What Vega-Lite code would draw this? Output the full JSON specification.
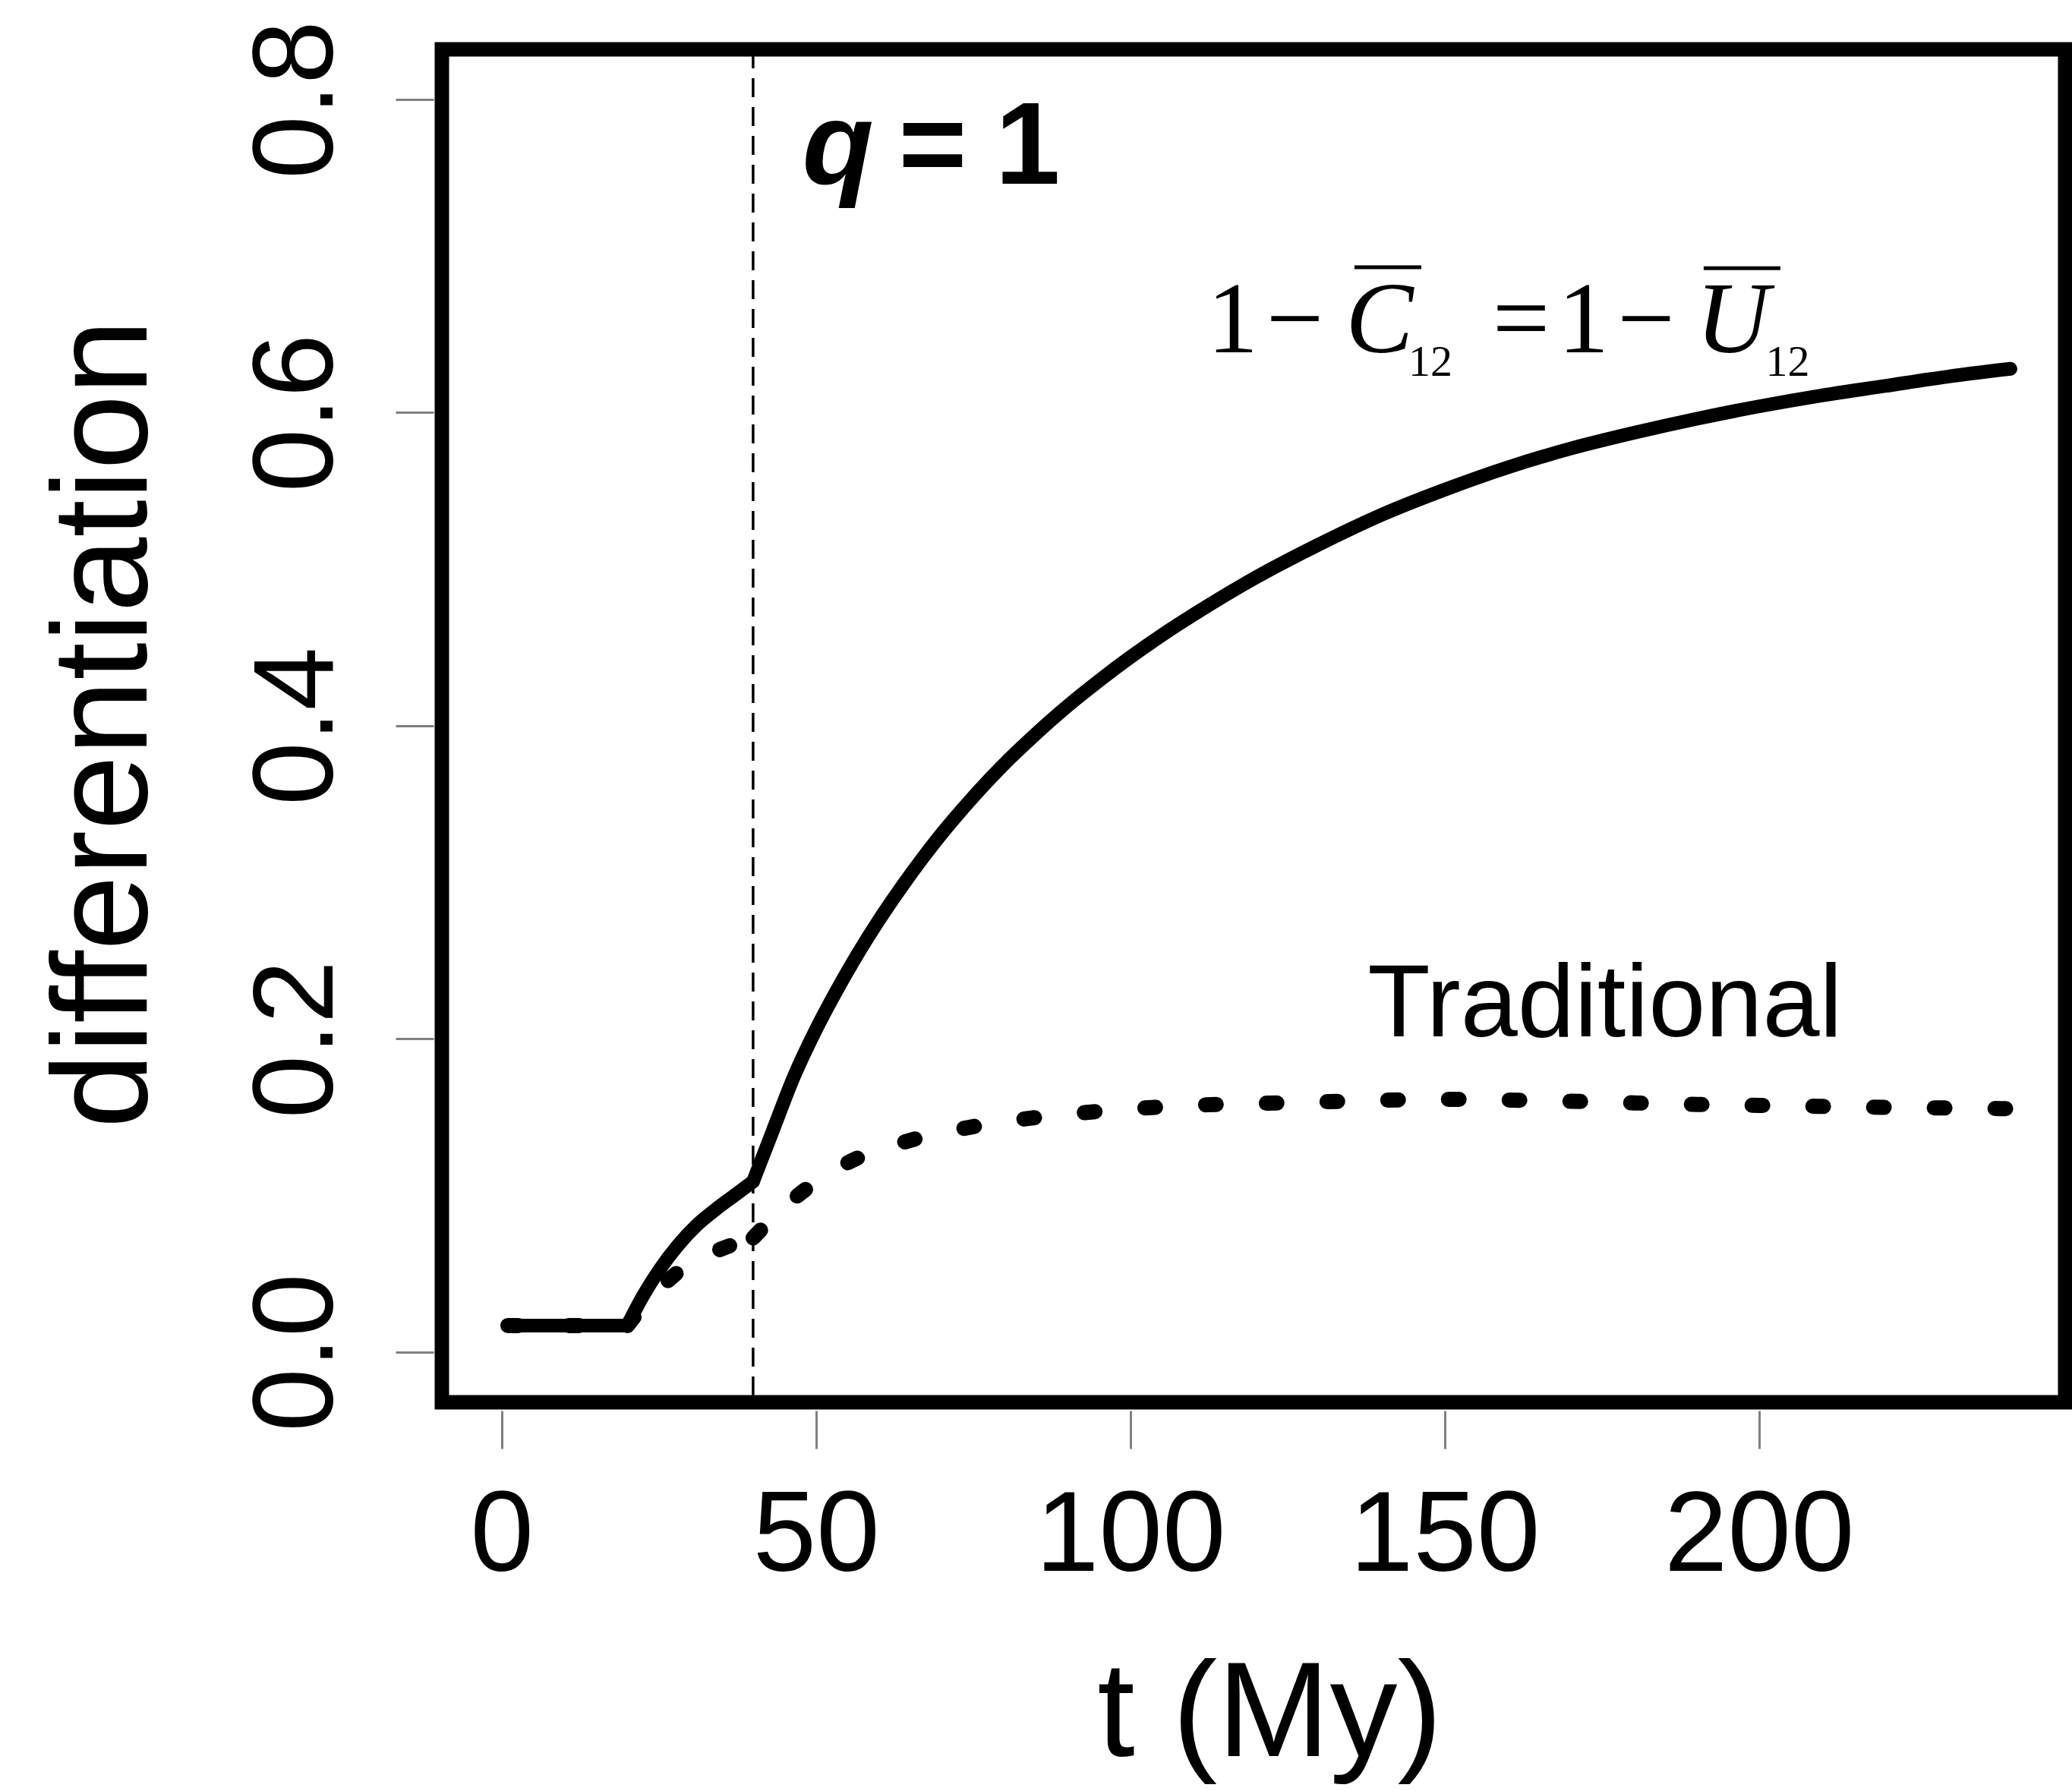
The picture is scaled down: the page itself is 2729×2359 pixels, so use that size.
{
  "$schema": "https://vega.github.io/schema/vega-lite/v6.json",
  "width": 2138,
  "height": 1782,
  "autosize": {"type": "none"},
  "padding": {"left": 582, "top": 65, "right": 9, "bottom": 512},
  "background": "white",
  "config": {
    "view": {"stroke": "black", "strokeWidth": 19},
    "font": "Liberation Sans",
    "axis": {
      "grid": false,
      "domain": false,
      "tickColor": "#808080",
      "tickWidth": 3,
      "tickSize": 50,
      "offset": 11,
      "labelFont": "Liberation Sans",
      "labelFontSize": 150,
      "labelColor": "black",
      "labelLimit": 0,
      "titleLimit": 0,
      "titleFont": "Liberation Sans",
      "titleFontSize": 178,
      "titleFontWeight": "normal",
      "titleColor": "black",
      "labelFlush": false,
      "labelOverlap": false
    },
    "axisX": {
      "labelPadding": 160,
      "labelAngle": 0,
      "labelAlign": "center",
      "labelBaseline": "alphabetic",
      "titleX": 1090,
      "titleY": 454,
      "titleAlign": "center",
      "titleBaseline": "alphabetic"
    },
    "axisY": {
      "labelAngle": 270,
      "labelAlign": "center",
      "labelBaseline": "alphabetic",
      "labelPadding": 84,
      "titleAngle": 270,
      "titleX": -379,
      "titleY": 888,
      "titleAlign": "center",
      "titleBaseline": "alphabetic"
    }
  },
  "datasets": {
    "curves": [
      {"t": 1, "value": 0.017, "series": "combined", "seg": "a"},
      {"t": 20, "value": 0.017, "series": "combined", "seg": "a"},
      {"t": 20, "value": 0.017, "series": "combined", "seg": "b"},
      {"t": 22.5, "value": 0.036, "series": "combined", "seg": "b"},
      {"t": 25, "value": 0.052, "series": "combined", "seg": "b"},
      {"t": 28, "value": 0.068, "series": "combined", "seg": "b"},
      {"t": 31, "value": 0.081, "series": "combined", "seg": "b"},
      {"t": 34, "value": 0.091, "series": "combined", "seg": "b"},
      {"t": 37, "value": 0.1, "series": "combined", "seg": "b"},
      {"t": 40, "value": 0.109, "series": "combined", "seg": "b"},
      {"t": 40, "value": 0.109, "series": "combined", "seg": "c"},
      {"t": 43, "value": 0.14, "series": "combined", "seg": "c"},
      {"t": 46.5, "value": 0.176, "series": "combined", "seg": "c"},
      {"t": 50, "value": 0.206, "series": "combined", "seg": "c"},
      {"t": 53, "value": 0.2288, "series": "combined", "seg": "c"},
      {"t": 56.6, "value": 0.254, "series": "combined", "seg": "c"},
      {"t": 60, "value": 0.2758, "series": "combined", "seg": "c"},
      {"t": 63.6, "value": 0.297, "series": "combined", "seg": "c"},
      {"t": 67, "value": 0.3157, "series": "combined", "seg": "c"},
      {"t": 70.5, "value": 0.3336, "series": "combined", "seg": "c"},
      {"t": 74, "value": 0.35, "series": "combined", "seg": "c"},
      {"t": 77.4, "value": 0.365, "series": "combined", "seg": "c"},
      {"t": 81, "value": 0.3798, "series": "combined", "seg": "c"},
      {"t": 84.4, "value": 0.3927, "series": "combined", "seg": "c"},
      {"t": 88, "value": 0.4057, "series": "combined", "seg": "c"},
      {"t": 91.3, "value": 0.4169, "series": "combined", "seg": "c"},
      {"t": 95.5, "value": 0.4303, "series": "combined", "seg": "c"},
      {"t": 100, "value": 0.4438, "series": "combined", "seg": "c"},
      {"t": 105, "value": 0.4578, "series": "combined", "seg": "c"},
      {"t": 110, "value": 0.4708, "series": "combined", "seg": "c"},
      {"t": 120, "value": 0.4948, "series": "combined", "seg": "c"},
      {"t": 130, "value": 0.5158, "series": "combined", "seg": "c"},
      {"t": 140, "value": 0.5348, "series": "combined", "seg": "c"},
      {"t": 150, "value": 0.5508, "series": "combined", "seg": "c"},
      {"t": 160, "value": 0.565, "series": "combined", "seg": "c"},
      {"t": 170, "value": 0.577, "series": "combined", "seg": "c"},
      {"t": 180, "value": 0.587, "series": "combined", "seg": "c"},
      {"t": 190, "value": 0.596, "series": "combined", "seg": "c"},
      {"t": 200, "value": 0.604, "series": "combined", "seg": "c"},
      {"t": 210, "value": 0.611, "series": "combined", "seg": "c"},
      {"t": 220, "value": 0.617, "series": "combined", "seg": "c"},
      {"t": 230, "value": 0.623, "series": "combined", "seg": "c"},
      {"t": 240, "value": 0.628, "series": "combined", "seg": "c"},
      {"t": 1, "value": 0.017, "series": "traditional", "seg": "d1"},
      {"t": 20, "value": 0.017, "series": "traditional", "seg": "d1"},
      {"t": 20, "value": 0.017, "series": "traditional", "seg": "d2"},
      {"t": 22, "value": 0.027, "series": "traditional", "seg": "d2"},
      {"t": 25, "value": 0.04, "series": "traditional", "seg": "d2"},
      {"t": 28, "value": 0.051, "series": "traditional", "seg": "d2"},
      {"t": 31, "value": 0.059, "series": "traditional", "seg": "d2"},
      {"t": 35, "value": 0.066, "series": "traditional", "seg": "d2"},
      {"t": 40, "value": 0.073, "series": "traditional", "seg": "d2"},
      {"t": 40, "value": 0.073, "series": "traditional", "seg": "d3"},
      {"t": 46.2, "value": 0.097, "series": "traditional", "seg": "d3"},
      {"t": 54.6, "value": 0.12, "series": "traditional", "seg": "d3"},
      {"t": 63.9, "value": 0.134, "series": "traditional", "seg": "d3"},
      {"t": 73.6, "value": 0.143, "series": "traditional", "seg": "d3"},
      {"t": 83.3, "value": 0.149, "series": "traditional", "seg": "d3"},
      {"t": 92.7, "value": 0.153, "series": "traditional", "seg": "d3"},
      {"t": 102.4, "value": 0.156, "series": "traditional", "seg": "d3"},
      {"t": 112.1, "value": 0.158, "series": "traditional", "seg": "d3"},
      {"t": 121.8, "value": 0.159, "series": "traditional", "seg": "d3"},
      {"t": 131.5, "value": 0.16, "series": "traditional", "seg": "d3"},
      {"t": 141, "value": 0.161, "series": "traditional", "seg": "d3"},
      {"t": 150.7, "value": 0.1615, "series": "traditional", "seg": "d3"},
      {"t": 160.4, "value": 0.161, "series": "traditional", "seg": "d3"},
      {"t": 170.3, "value": 0.1602, "series": "traditional", "seg": "d3"},
      {"t": 180.2, "value": 0.1592, "series": "traditional", "seg": "d3"},
      {"t": 190.1, "value": 0.1582, "series": "traditional", "seg": "d3"},
      {"t": 200, "value": 0.1576, "series": "traditional", "seg": "d3"},
      {"t": 209.5, "value": 0.157, "series": "traditional", "seg": "d3"},
      {"t": 219.4, "value": 0.1564, "series": "traditional", "seg": "d3"},
      {"t": 228.9, "value": 0.156, "series": "traditional", "seg": "d3"},
      {"t": 240, "value": 0.1555, "series": "traditional", "seg": "d3"}
    ],
    "marker": [
      {"t": 40}
    ],
    "notes": [
      {"t": 53.5, "value": 0.7462, "label": "q", "kind": "qsym"},
      {"t": 68.58, "value": 0.7462, "label": "=", "kind": "qrest"},
      {"t": 83.67, "value": 0.7462, "label": "1", "kind": "qrest"},
      {"t": 175.5, "value": 0.2017, "label": "Traditional", "kind": "trad"},
      {"t": 116.28, "value": 0.6385, "label": "1", "kind": "fnum"},
      {"t": 126.18, "value": 0.6385, "label": "−", "kind": "fnum"},
      {"t": 139.65, "value": 0.6385, "label": "C", "kind": "fvar"},
      {"t": 147.73, "value": 0.6234, "label": "12", "kind": "fsub"},
      {"t": 162.17, "value": 0.6385, "label": "=", "kind": "fnum"},
      {"t": 172.07, "value": 0.6385, "label": "1", "kind": "fnum"},
      {"t": 182.03, "value": 0.6385, "label": "−", "kind": "fnum"},
      {"t": 195.8, "value": 0.6385, "label": "U", "kind": "fvar"},
      {"t": 204.55, "value": 0.6234, "label": "12", "kind": "fsub"}
    ],
    "bars": [
      {"t": 135.66, "t2": 146.29, "value": 0.6928},
      {"t": 191.2, "t2": 203.4, "value": 0.6923}
    ]
  },
  "layer": [
    {
      "data": {"name": "marker"},
      "mark": {"type": "rule", "color": "black", "strokeWidth": 3.5, "strokeDash": [25, 13]},
      "encoding": {
        "x": {"field": "t", "type": "quantitative", "title": "t (My)", "scale": {"domain": [-9.5, 248.7], "nice": false, "zero": false}, "axis": {"values": [0, 50, 100, 150, 200]}}
      }
    },
    {
      "data": {"name": "curves"},
      "transform": [{"filter": "datum.series === 'traditional'"}],
      "mark": {"type": "line", "color": "black", "strokeWidth": 20, "strokeCap": "round", "strokeJoin": "round", "strokeDash": [14, 66], "interpolate": "monotone"},
      "encoding": {
        "x": {"field": "t", "type": "quantitative", "title": "t (My)", "scale": {"domain": [-9.5, 248.7], "nice": false, "zero": false}},
        "y": {"field": "value", "type": "quantitative", "title": "differentiation", "scale": {"domain": [-0.032, 0.832], "nice": false, "zero": false}, "axis": {"values": [0, 0.2, 0.4, 0.6, 0.8], "format": ".1f"}},
        "detail": {"field": "seg", "type": "nominal"},
        "order": {"field": "t", "type": "quantitative"}
      }
    },
    {
      "data": {"name": "curves"},
      "transform": [{"filter": "datum.series === 'combined'"}],
      "mark": {"type": "line", "color": "black", "strokeWidth": 18, "strokeCap": "round", "strokeJoin": "round", "interpolate": "monotone"},
      "encoding": {
        "x": {"field": "t", "type": "quantitative", "title": "t (My)", "scale": {"domain": [-9.5, 248.7], "nice": false, "zero": false}},
        "y": {"field": "value", "type": "quantitative", "title": "differentiation", "scale": {"domain": [-0.032, 0.832], "nice": false, "zero": false}},
        "detail": {"field": "seg", "type": "nominal"},
        "order": {"field": "t", "type": "quantitative"}
      }
    },
    {
      "data": {"name": "bars"},
      "mark": {"type": "rule", "color": "black", "strokeWidth": 5},
      "encoding": {
        "x": {"field": "t", "type": "quantitative", "title": "t (My)", "scale": {"domain": [-9.5, 248.7], "nice": false, "zero": false}},
        "x2": {"field": "t2"},
        "y": {"field": "value", "type": "quantitative", "title": "differentiation", "scale": {"domain": [-0.032, 0.832], "nice": false, "zero": false}}
      }
    },
    {
      "data": {"name": "notes"},
      "transform": [{"filter": "datum.kind === 'qsym'"}],
      "mark": {"type": "text", "font": "Liberation Sans", "fontSize": 154, "fontWeight": "bold", "fontStyle": "italic", "align": "center", "baseline": "alphabetic", "color": "black"},
      "encoding": {
        "x": {"field": "t", "type": "quantitative", "title": "t (My)", "scale": {"domain": [-9.5, 248.7], "nice": false, "zero": false}},
        "y": {"field": "value", "type": "quantitative", "title": "differentiation", "scale": {"domain": [-0.032, 0.832], "nice": false, "zero": false}},
        "text": {"field": "label"}
      }
    },
    {
      "data": {"name": "notes"},
      "transform": [{"filter": "datum.kind === 'qrest'"}],
      "mark": {"type": "text", "font": "Liberation Sans", "fontSize": 154, "fontWeight": "bold", "align": "center", "baseline": "alphabetic", "color": "black"},
      "encoding": {
        "x": {"field": "t", "type": "quantitative", "title": "t (My)", "scale": {"domain": [-9.5, 248.7], "nice": false, "zero": false}},
        "y": {"field": "value", "type": "quantitative", "title": "differentiation", "scale": {"domain": [-0.032, 0.832], "nice": false, "zero": false}},
        "text": {"field": "label"}
      }
    },
    {
      "data": {"name": "notes"},
      "transform": [{"filter": "datum.kind === 'trad'"}],
      "mark": {"type": "text", "font": "Liberation Sans", "fontSize": 135, "align": "center", "baseline": "alphabetic", "color": "black"},
      "encoding": {
        "x": {"field": "t", "type": "quantitative", "title": "t (My)", "scale": {"domain": [-9.5, 248.7], "nice": false, "zero": false}},
        "y": {"field": "value", "type": "quantitative", "title": "differentiation", "scale": {"domain": [-0.032, 0.832], "nice": false, "zero": false}},
        "text": {"field": "label"}
      }
    },
    {
      "data": {"name": "notes"},
      "transform": [{"filter": "datum.kind === 'fnum'"}],
      "mark": {"type": "text", "font": "Liberation Serif", "fontSize": 134, "align": "center", "baseline": "alphabetic", "color": "black"},
      "encoding": {
        "x": {"field": "t", "type": "quantitative", "title": "t (My)", "scale": {"domain": [-9.5, 248.7], "nice": false, "zero": false}},
        "y": {"field": "value", "type": "quantitative", "title": "differentiation", "scale": {"domain": [-0.032, 0.832], "nice": false, "zero": false}},
        "text": {"field": "label"}
      }
    },
    {
      "data": {"name": "notes"},
      "transform": [{"filter": "datum.kind === 'fvar'"}],
      "mark": {"type": "text", "font": "Liberation Serif", "fontSize": 134, "fontStyle": "italic", "align": "center", "baseline": "alphabetic", "color": "black"},
      "encoding": {
        "x": {"field": "t", "type": "quantitative", "title": "t (My)", "scale": {"domain": [-9.5, 248.7], "nice": false, "zero": false}},
        "y": {"field": "value", "type": "quantitative", "title": "differentiation", "scale": {"domain": [-0.032, 0.832], "nice": false, "zero": false}},
        "text": {"field": "label"}
      }
    },
    {
      "data": {"name": "notes"},
      "transform": [{"filter": "datum.kind === 'fsub'"}],
      "mark": {"type": "text", "font": "Liberation Serif", "fontSize": 58, "align": "center", "baseline": "alphabetic", "color": "black"},
      "encoding": {
        "x": {"field": "t", "type": "quantitative", "title": "t (My)", "scale": {"domain": [-9.5, 248.7], "nice": false, "zero": false}},
        "y": {"field": "value", "type": "quantitative", "title": "differentiation", "scale": {"domain": [-0.032, 0.832], "nice": false, "zero": false}},
        "text": {"field": "label"}
      }
    }
  ]
}
